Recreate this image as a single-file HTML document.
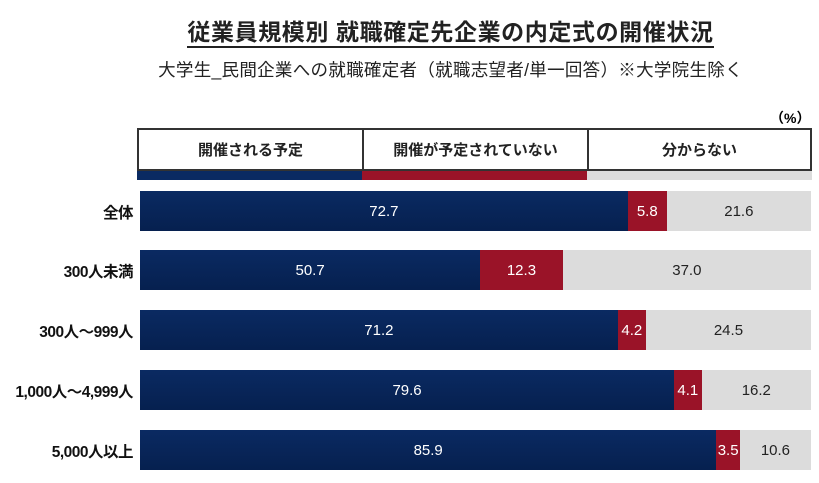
<!DOCTYPE html><html><head><meta charset="utf-8"><style>
body{margin:0;width:819px;height:483px;background:#fff;font-family:"Liberation Sans","Noto Sans CJK JP",sans-serif;position:relative;overflow:hidden}
.a{position:absolute}
.t{left:41px;width:819px;text-align:center;top:13px;font-size:23px;font-weight:bold;color:#222;letter-spacing:0.6px}
.t span{border-bottom:2px solid #222;padding-bottom:1px}
.s{left:41px;width:819px;text-align:center;top:57px;font-size:17.5px;color:#222;letter-spacing:0.3px}
.hd{top:128px;height:43px;border:2px solid #333;box-sizing:border-box;background:#fff;font-size:15px;font-weight:bold;display:flex;align-items:center;justify-content:center;color:#222}
.row{left:140px;width:671px;height:40px;display:flex}
.row div{height:100%;display:flex;align-items:center;justify-content:center;font-size:15px}
.n{background:linear-gradient(#0a2a62,#06204f);color:#fff}
.r{background:#9a1328;color:#fff}
.g{background:#dcdcdc;color:#222}
.lb{right:686px;font-size:15.5px;font-weight:bold;color:#111;white-space:nowrap;letter-spacing:-0.5px}
</style></head><body>
<div class="a t"><span>従業員規模別 就職確定先企業の内定式の開催状況</span></div>
<div class="a s">大学生_民間企業への就職確定者（就職志望者/単一回答）※大学院生除く</div>
<div class="a" style="left:770px;top:108px;font-size:14px;font-weight:bold">（%）</div>
<div class="a hd" style="left:137px;width:227px">開催される予定</div>
<div class="a hd" style="left:362px;width:227px">開催が予定されていない</div>
<div class="a hd" style="left:587px;width:225px">分からない</div>
<div class="a" style="left:137px;top:171px;width:225px;height:9px;background:#0a2a62"></div>
<div class="a" style="left:362px;top:171px;width:225px;height:9px;background:#9a1328"></div>
<div class="a" style="left:587px;top:171px;width:225px;height:9px;background:#dcdcdc"></div>

<div class="a lb" style="top:201px">全体</div>
<div class="a row" style="top:191px"><div class="n" style="width:72.7%">72.7</div><div class="r" style="width:5.8%">5.8</div><div class="g" style="width:21.5%">21.6</div></div>
<div class="a lb" style="top:260px">300人未満</div>
<div class="a row" style="top:250px"><div class="n" style="width:50.7%">50.7</div><div class="r" style="width:12.3%">12.3</div><div class="g" style="width:37%">37.0</div></div>
<div class="a lb" style="top:320px">300人～999人</div>
<div class="a row" style="top:310px"><div class="n" style="width:71.2%">71.2</div><div class="r" style="width:4.2%">4.2</div><div class="g" style="width:24.6%">24.5</div></div>
<div class="a lb" style="top:380px">1,000人～4,999人</div>
<div class="a row" style="top:370px"><div class="n" style="width:79.6%">79.6</div><div class="r" style="width:4.1%">4.1</div><div class="g" style="width:16.3%">16.2</div></div>
<div class="a lb" style="top:440px">5,000人以上</div>
<div class="a row" style="top:430px"><div class="n" style="width:85.9%">85.9</div><div class="r" style="width:3.5%">3.5</div><div class="g" style="width:10.6%">10.6</div></div>
</body></html>
